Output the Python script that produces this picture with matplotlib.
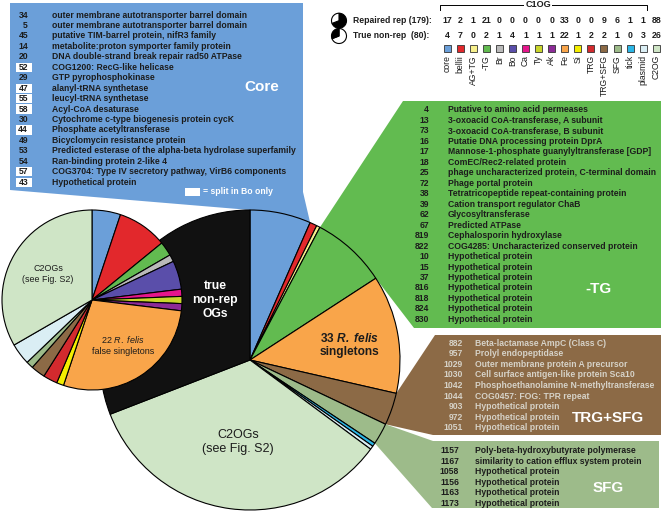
import numpy as np
import matplotlib
matplotlib.use("Agg")
import matplotlib.pyplot as plt
import matplotlib.patches as mpatches

plt.rcParams["font.family"] = ["Liberation Sans", "DejaVu Sans"]
plt.rcParams["mathtext.fontset"] = "custom"
plt.rcParams["mathtext.rm"] = "Liberation Sans"
plt.rcParams["mathtext.it"] = "Liberation Sans:italic"
plt.rcParams["mathtext.bf"] = "Liberation Sans:bold"
plt.rcParams["mathtext.bfit"] = "Liberation Sans:italic:bold"

# ---- dati ----
categories = ["core", "bellii", "AG+TG", "-TG", "Br", "Bo", "Ca", "Ty", "Ak",
              "Fe", "Si", "TRG", "TRG+SFG", "SFG", "tick", "plasmid", "C2OG"]
repaired_rep = [17, 2, 1, 21, 0, 0, 0, 0, 0, 33, 0, 0, 9, 6, 1, 1, 88]
true_nonrep = [4, 7, 0, 2, 1, 4, 1, 1, 1, 22, 1, 2, 2, 1, 0, 3, 26]
cat_colors = ["#6b9fd9", "#e2282c", "#f7f08c", "#62bb50", "#b9b9b9", "#5a4eaa",
              "#e5168c", "#c9d62c", "#8c2b97", "#f9a54a", "#f4ee00", "#d32a2e",
              "#8c6a46", "#9dbb8a", "#2bb6e6", "#daeef4", "#cfe5c6"]
n_repaired = 179
n_nonrep = 80

core_ids = ["34", "5", "45", "14", "20", "52", "29", "47", "55", "58", "30",
            "44", "49", "53", "54", "57", "43"]
core_desc = [
    "outer membrane autotransporter barrel domain",
    "outer membrane autotransporter barrel domain",
    "putative TIM-barrel protein, nifR3 family",
    "metabolite:proton symporter family protein",
    "DNA double-strand break repair rad50 ATPase",
    "COG1200: RecG-like helicase",
    "GTP pyrophosphokinase",
    "alanyl-tRNA synthetase",
    "leucyl-tRNA synthetase",
    "Acyl-CoA desaturase",
    "Cytochrome c-type biogenesis protein cycK",
    "Phosphate acetyltransferase",
    "Bicyclomycin resistance protein",
    "Predicted esterase of the alpha-beta hydrolase superfamily",
    "Ran-binding protein 2-like 4",
    "COG3704: Type IV secretory pathway, VirB6 components",
    "Hypothetical protein",
]
core_bo_split = ["52", "47", "55", "58", "44", "57", "43"]

tg_ids = ["4", "13", "73", "16", "17", "18", "25", "72", "38", "39", "62",
          "67", "819", "822", "10", "15", "37", "816", "818", "824", "830"]
tg_desc = [
    "Putative to amino acid permeases",
    "3-oxoacid CoA-transferase, A subunit",
    "3-oxoacid CoA-transferase, B subunit",
    "Putatie DNA processing protein DprA",
    "Mannose-1-phosphate guanylyltransferase [GDP]",
    "ComEC/Rec2-related protein",
    "phage uncharacterized protein, C-terminal domain",
    "Phage portal protein",
    "Tetratricopeptide repeat-containing protein",
    "Cation transport regulator ChaB",
    "Glycosyltransferase",
    "Predicted ATPase",
    "Cephalosporin hydroxylase",
    "COG4285: Uncharacterized conserved protein",
] + ["Hypothetical protein"] * 7

trgsfg_ids = ["882", "957", "1029", "1030", "1042", "1044", "903", "972", "1051"]
trgsfg_desc = [
    "Beta-lactamase AmpC (Class C)",
    "Prolyl endopeptidase",
    "Outer membrane protein A precursor",
    "Cell surface antigen-like protein Sca10",
    "Phosphoethanolamine N-methyltransferase",
    "COG0457: FOG: TPR repeat",
] + ["Hypothetical protein"] * 3

sfg_ids = ["1157", "1167", "1058", "1156", "1163", "1173"]
sfg_desc = [
    "Poly-beta-hydroxybutyrate polymerase",
    "similarity to cation efflux system protein",
] + ["Hypothetical protein"] * 4

FS = 6.2
DARK = "#1c1c1c"


def gene_list(ax, ids, descs, num_x, text_x, y0, dy, color, boxed=()):
    for i, (gid, desc) in enumerate(zip(ids, descs)):
        y = y0 + i * dy
        if gid in boxed:
            ax.add_patch(mpatches.Rectangle((num_x - 12, y - 4.6), 16, 9.2,
                                            facecolor="white", edgecolor="none", zorder=3))
        ax.text(num_x, y, gid, ha="right", va="center", fontsize=FS,
                fontweight="bold", color=color, zorder=4)
        ax.text(text_x, y, desc, ha="left", va="center", fontsize=FS,
                fontweight="bold", color=color, zorder=4)


def rim(w, theta):
    cx, cy = w.center
    t = np.deg2rad(theta)
    return (cx + w.r * np.cos(t), cy + w.r * np.sin(t))


fig = plt.figure(figsize=(6.62, 5.12), dpi=100)
ax = fig.add_axes([0, 0, 1, 1])

# ---- torte (asse y invertito: startangle=-90 = ore 12, counterclock=True = orario) ----
edge = dict(edgecolor="black", linewidth=0.8)
big_names = [c for c, v in zip(categories, repaired_rep) if v > 0] + ["non-rep"]
big_vals = [v for v in repaired_rep if v > 0] + [n_nonrep]
big_cols = [c for c, v in zip(cat_colors, repaired_rep) if v > 0] + ["#111111"]
big_w, _ = ax.pie(big_vals, colors=big_cols, startangle=-90, counterclock=True,
                  center=(250, 360), radius=150, wedgeprops=edge, frame=True)
for w in big_w:
    w.set_zorder(2)
wedge = dict(zip(big_names, big_w))

small_vals = [v for v in true_nonrep if v > 0]
small_cols = [c for c, v in zip(cat_colors, true_nonrep) if v > 0]
small_w, _ = ax.pie(small_vals, colors=small_cols, startangle=-90, counterclock=True,
                    center=(92, 300), radius=90, wedgeprops=edge, frame=True)
for w in small_w:
    w.set_zorder(2.5)

# ---- riquadri collegati agli spicchi ----
ctr = (250, 360)
wc = wedge["core"]
core_poly = [(10, 3), (303, 3), (303, 192), rim(wc, wc.theta2), ctr,
             rim(wc, wc.theta1), (10, 190)]
wt = wedge["-TG"]
tg_poly = [(403, 101), (661, 101), (661, 328), (414, 328), rim(wt, wt.theta2), ctr,
           rim(wt, wt.theta1)]
wb = wedge["TRG+SFG"]
trg_poly = [(435, 335), (661, 335), (661, 435), (433, 435), rim(wb, wb.theta2), ctr,
            rim(wb, wb.theta1)]
ws = wedge["SFG"]
sfg_poly = [rim(ws, ws.theta1), (433, 441), (659, 441), (659, 508), (432, 508),
            rim(ws, ws.theta2), ctr]
for poly, col in ((core_poly, cat_colors[0]), (tg_poly, cat_colors[3]),
                  (trg_poly, cat_colors[12]), (sfg_poly, cat_colors[13])):
    ax.add_patch(mpatches.Polygon(poly, closed=True, facecolor=col,
                                  edgecolor="none", zorder=1))

# ---- elenchi ----
gene_list(ax, core_ids, core_desc, 28, 52, 15, 10.45, DARK, boxed=core_bo_split)
gene_list(ax, tg_ids, tg_desc, 429, 448, 110, 10.47, DARK)
gene_list(ax, trgsfg_ids, trgsfg_desc, 463, 475, 343.3, 10.55, "#d6d2c8")
gene_list(ax, sfg_ids, sfg_desc, 459, 475, 450.7, 10.5, DARK)

for label, (x, y) in (("Core", (262, 87)), ("-TG", (598, 289)),
                      ("TRG+SFG", (608, 418)), ("SFG", (608, 488))):
    ax.text(x, y, label, ha="center", va="center", fontsize=11,
            fontweight="bold", color="white", zorder=4)

ax.add_patch(mpatches.Rectangle((185, 188), 15, 8, facecolor="white",
                                edgecolor="none", zorder=3))
ax.text(203, 192, "= split in Bo only", ha="left", va="center", fontsize=FS,
        fontweight="bold", color="white", zorder=4)

# ---- etichette delle torte ----
ax.text(215, 300, "true\nnon-rep\nOGs", ha="center", va="center", fontsize=8.7,
        fontweight="bold", color="white", linespacing=1.2, zorder=5)
ax.text(48, 274, "C2OGs\n(see Fig. S2)", ha="center", va="center", fontsize=6.4,
        color=DARK, linespacing=1.15, zorder=5)
ax.text(123, 345, "22 $\\mathit{R.\\ felis}$\nfalse singletons", ha="center",
        va="center", fontsize=6.5, color=DARK, linespacing=1.2, zorder=5)
ax.text(350, 345, "33 $\\mathbfit{R.\\ felis}$\nsingletons", ha="center",
        va="center", fontsize=8.6, fontweight="bold", color=DARK,
        linespacing=1.2, zorder=5)
ax.text(238, 442, "C2OGs\n(see Fig. S2)", ha="center", va="center", fontsize=9,
        color=DARK, linespacing=1.2, zorder=5)

# ---- legenda C1OG ----
col_x = 447 + 13.08 * np.arange(len(categories))
ax.plot([440, 440, 647, 647], [9.5, 4.7, 4.7, 9.5], color="black", lw=0.7, zorder=3)
ax.text(538, 4.7, "C1OG", ha="center", va="center", fontsize=6.5,
        fontweight="bold", color=DARK, zorder=4,
        bbox=dict(facecolor="white", edgecolor="none", pad=1.2))

ax.text(353, 20.7, f"Repaired rep ({n_repaired}):", ha="left", va="center",
        fontsize=FS, fontweight="bold", color=DARK)
ax.text(353, 36, f"True non-rep  ({n_nonrep}):", ha="left", va="center",
        fontsize=FS, fontweight="bold", color=DARK)
for x, name, col, a, b in zip(col_x, categories, cat_colors, repaired_rep, true_nonrep):
    ax.text(x, 20.7, str(a), ha="center", va="center", fontsize=6.3,
            fontweight="bold", color=DARK)
    ax.text(x, 36, str(b), ha="center", va="center", fontsize=6.3,
            fontweight="bold", color=DARK)
    ax.add_patch(mpatches.Rectangle((x - 3.5, 44.8), 7, 7, facecolor=col,
                                    edgecolor="#333333", lw=0.6, zorder=3))
    ax.text(x, 55, name, rotation=90, ha="center", va="top", fontsize=FS,
            color=DARK, zorder=0.5)

icon_edge = dict(edgecolor="black", linewidth=0.8)
ax.pie([n_repaired, n_nonrep], colors=["black", "white"], startangle=-90,
       counterclock=True, center=(339, 20.7), radius=7.5, wedgeprops=icon_edge,
       frame=True)
ax.pie([n_repaired, n_nonrep], colors=["white", "black"], startangle=-90,
       counterclock=True, center=(339, 36), radius=7.5, wedgeprops=icon_edge,
       frame=True)

ax.set_xlim(0, 662)
ax.set_ylim(512, 0)
ax.set_aspect("auto")
ax.axis("off")
fig.savefig("out.png", dpi=100, facecolor="white")
